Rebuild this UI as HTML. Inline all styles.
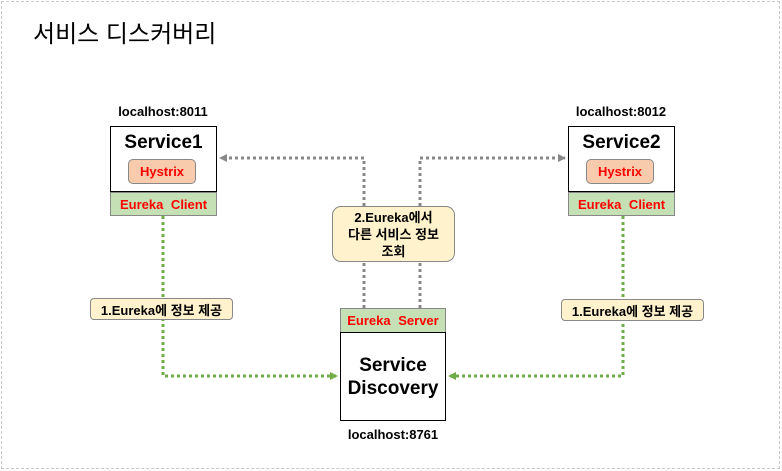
<!DOCTYPE html>
<html><head><meta charset="utf-8"><style>
body{margin:0;width:782px;height:471px;background:#fff;overflow:hidden;font-family:"Liberation Sans","Noto Sans CJK KR",sans-serif;}
.a{position:absolute;box-sizing:border-box;display:flex;align-items:center;justify-content:center;text-align:center;}
</style></head><body>
<div style="position:absolute;left:1px;top:1px;width:779px;height:468px;border:1px dashed #c8c8c8;box-sizing:border-box"></div>
<div style="position:absolute;left:33px;top:14px;font-size:24px;color:#000">서비스 디스커버리</div>
<svg width="782" height="471" style="position:absolute;left:0;top:0">
<defs>
<marker id="g" markerWidth="8" markerHeight="8" refX="7" refY="4" orient="auto" markerUnits="userSpaceOnUse"><path d="M0,0L8,4L0,8z" fill="#70ad47"/></marker>
<marker id="y" markerWidth="8" markerHeight="8" refX="7" refY="4" orient="auto" markerUnits="userSpaceOnUse"><path d="M0,0L8,4L0,8z" fill="#888"/></marker>
</defs>
<g fill="none" stroke-width="3" stroke-dasharray="3,3">
<path d="M364,308V158H220" stroke="#888" marker-end="url(#y)"/>
<path d="M420,308V158H565" stroke="#888" marker-end="url(#y)"/>
<path d="M163,216V376H337" stroke="#70ad47" marker-end="url(#g)"/>
<path d="M623,216V376H449" stroke="#70ad47" marker-end="url(#g)"/>
</g>
</svg>
<div class="a" style="left:90px;top:101px;width:146px;height:20px;font-size:13px;font-weight:bold">localhost:8011</div>
<div class="a" style="left:548px;top:101px;width:146px;height:20px;font-size:13px;font-weight:bold">localhost:8012</div>
<div class="a" style="left:320px;top:424px;width:146px;height:20px;font-size:13px;font-weight:bold">localhost:8761</div>

<div style="position:absolute;left:110px;top:126px;width:107px;height:66px;border:1px solid #000;box-sizing:border-box;background:#fff"></div>
<div class="a" style="left:110px;top:131px;width:107px;height:24px;font-size:19px;font-weight:bold">Service1</div>
<div class="a" style="left:128px;top:159px;width:68px;height:25px;background:#f8cbad;border:1px solid #888;border-radius:5px;color:#f00;font-size:13px;font-weight:bold">Hystrix</div>
<div class="a" style="left:110px;top:192px;width:107px;height:24px;background:#c5e0b4;border:1px solid #888;color:#f00;font-size:13px;font-weight:bold;word-spacing:4px">Eureka Client</div>

<div style="position:absolute;left:568px;top:126px;width:107px;height:66px;border:1px solid #000;box-sizing:border-box;background:#fff"></div>
<div class="a" style="left:568px;top:131px;width:107px;height:24px;font-size:19px;font-weight:bold">Service2</div>
<div class="a" style="left:586px;top:159px;width:68px;height:25px;background:#f8cbad;border:1px solid #888;border-radius:5px;color:#f00;font-size:13px;font-weight:bold">Hystrix</div>
<div class="a" style="left:568px;top:192px;width:107px;height:24px;background:#c5e0b4;border:1px solid #888;color:#f00;font-size:13px;font-weight:bold;word-spacing:4px">Eureka Client</div>

<div class="a" style="left:340px;top:308px;width:106px;height:25px;background:#c5e0b4;border:1px solid #888;color:#f00;font-size:13px;font-weight:bold;word-spacing:4px">Eureka Server</div>
<div class="a" style="left:340px;top:332px;width:106px;height:89px;border:1px solid #000;background:#fff;font-size:19px;font-weight:bold;line-height:23px">Service<br>Discovery</div>

<div class="a" style="left:332px;top:206px;width:123px;height:56px;background:#fff2cc;border:1px solid #888;border-radius:9px;font-size:13px;font-weight:bold;line-height:17px">2.Eureka에서<br>다른 서비스 정보<br>조회</div>
<div class="a" style="left:90px;top:298px;width:143px;height:22px;background:#fff2cc;border:1px solid #888;border-radius:4px;font-size:13px;font-weight:bold">1.Eureka에 정보 제공</div>
<div class="a" style="left:561px;top:299px;width:143px;height:22px;background:#fff2cc;border:1px solid #888;border-radius:4px;font-size:13px;font-weight:bold">1.Eureka에 정보 제공</div>
</body></html>
